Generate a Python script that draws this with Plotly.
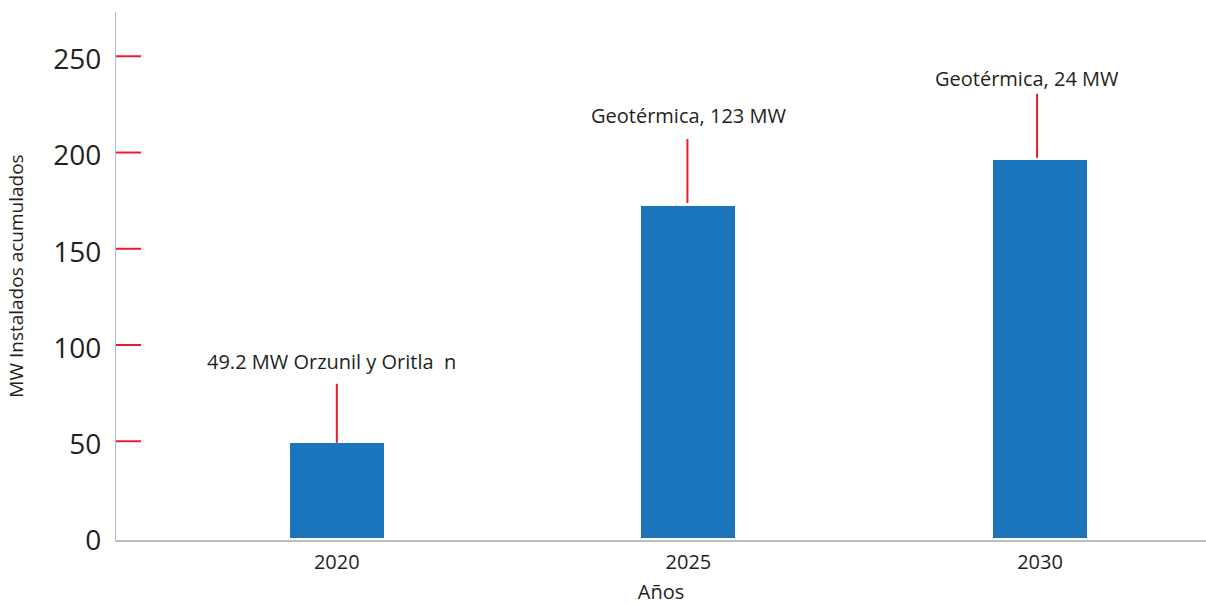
import plotly.graph_objects as go

# Installed geothermal capacity (MW), cumulative by milestone year
years = [2020, 2025, 2030]
increments = [49.2, 123, 24]
labels = ["49.2 MW Orzunil y Oritla\u00a0\u00a0n", "Geotérmica, 123 MW", "Geotérmica, 24 MW"]
y_ticks = [0, 50, 100, 150, 200, 250]

totals = []
running = 0.0
for inc in increments:
    running += inc
    totals.append(round(running, 1))

BLUE = "#1b75bc"
RED = "#ed1c24"
INK = "#231f20"
AXIS = "#bdbdbd"
FONT = "Open Sans"

fig = go.Figure(
    go.Bar(
        x=years,
        y=totals,
        width=1.335,
        marker=dict(color=BLUE, line=dict(width=0)),
        hoverinfo="x+y",
    )
)

# red tick marks inside the y axis (none at zero)
for t in y_ticks:
    if t == 0:
        continue
    fig.add_shape(
        type="line",
        xref="paper", yref="y",
        xsizemode="pixel", xanchor=0,
        x0=0, x1=25, y0=t, y1=t,
        line=dict(color=RED, width=2),
    )

# stem (pixel offsets above bar top) and label placement per bar
stem_px = [(0, 59), (3, 67), (2, 66)]
stem_dx = [0, -1, -3]
label_dy = [81, 91, 81]
label_dx = [-5, 0, -13]

for i, (yr, val, txt) in enumerate(zip(years, totals, labels)):
    fig.add_shape(
        type="line",
        xref="x", yref="y",
        xsizemode="pixel", ysizemode="pixel",
        xanchor=yr, yanchor=val,
        x0=stem_dx[i], x1=stem_dx[i],
        y0=stem_px[i][0], y1=stem_px[i][1],
        line=dict(color=RED, width=2),
    )
    fig.add_annotation(
        x=yr, y=val, xref="x", yref="y",
        text=txt, showarrow=False,
        xanchor="center", yanchor="middle",
        xshift=label_dx[i], yshift=label_dy[i],
        font=dict(family=FONT, size=20, color=INK),
    )

fig.update_layout(
    width=1206,
    height=605,
    margin=dict(l=116, r=0, t=12, b=65),
    paper_bgcolor="white",
    plot_bgcolor="white",
    showlegend=False,
    bargap=0,
    font=dict(family=FONT, color=INK),
)

fig.update_xaxes(
    range=[2016.86, 2032.36],
    tickvals=years,
    ticktext=[str(y) for y in years],
    tickfont=dict(family=FONT, size=20, color=INK),
    ticklabelstandoff=3,
    showgrid=False,
    zeroline=False,
    showline=True,
    linecolor=AXIS,
    linewidth=1.6,
    ticks="",
    automargin=False,
    title=dict(text="Años", font=dict(family=FONT, size=20, color=INK), standoff=19),
)

fig.update_yaxes(
    range=[-1.3, 273],
    tickvals=y_ticks,
    tickfont=dict(family=FONT, size=28, color=INK),
    ticks="",
    ticklabelstandoff=8,
    ticklabelshift=3,
    showgrid=False,
    zeroline=False,
    showline=True,
    linecolor=AXIS,
    linewidth=1.2,
    automargin=False,
    title=dict(text="MW Instalados acumulados", font=dict(family=FONT, size=19, color=INK), standoff=24),
)

fig.write_html("out.html")
